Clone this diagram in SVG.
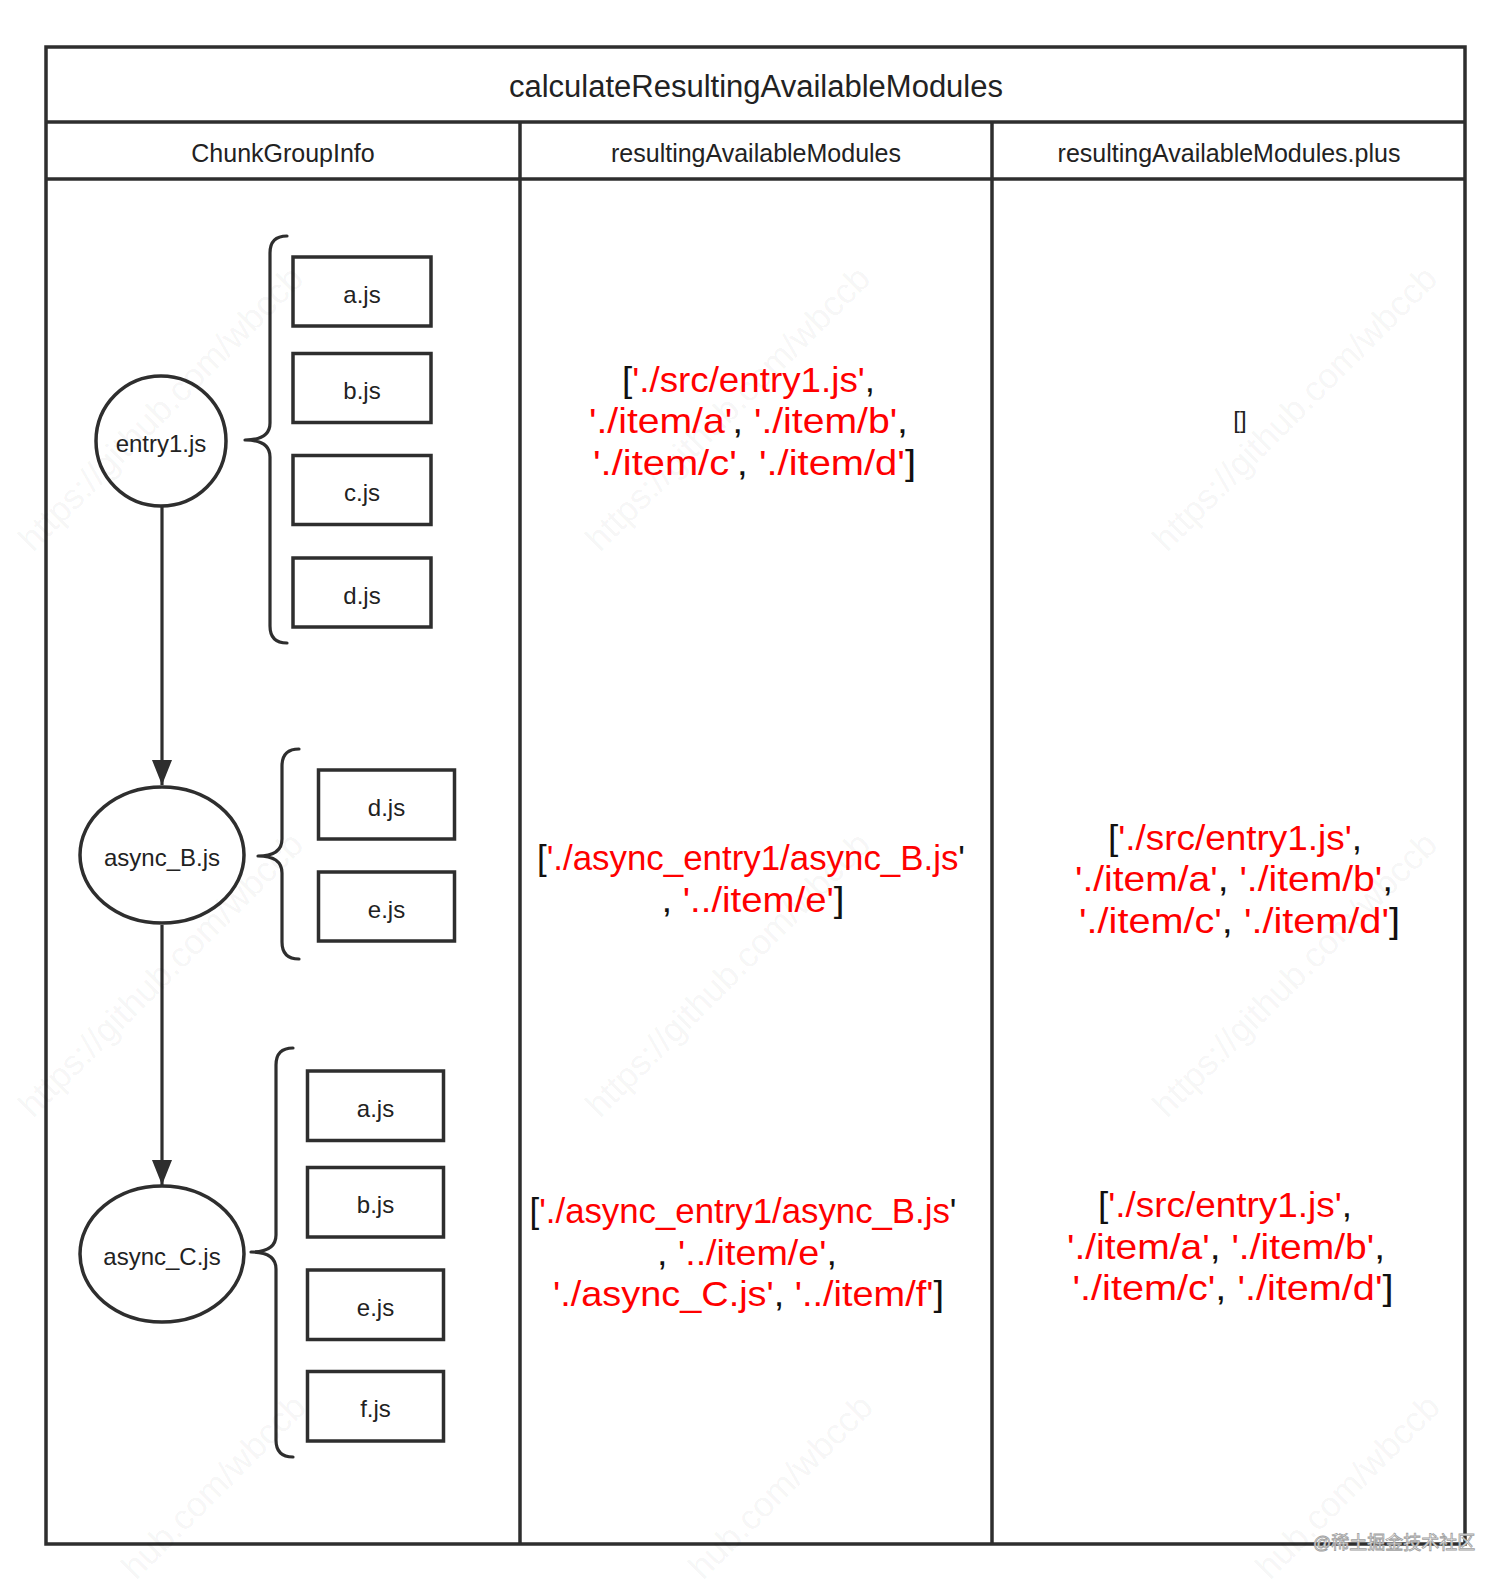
<svg xmlns="http://www.w3.org/2000/svg" width="1512" height="1591" viewBox="0 0 1512 1591">
<style>
.tbl{fill:none;stroke:#2e2e2e;stroke-width:3.5}
.box{fill:#ffffff;stroke:#2e2e2e;stroke-width:3.5}
.node{fill:#ffffff;stroke:#2e2e2e;stroke-width:3.5}
.brace{fill:none;stroke:#2e2e2e;stroke-width:3.2;stroke-linejoin:round;stroke-linecap:round}
.edge{fill:none;stroke:#2e2e2e;stroke-width:3.2}
.t{font-family:"Liberation Sans",Arial,sans-serif;fill:#222222;text-anchor:middle}
.lbl{font-size:24px}
.hdr{font-size:25px}
.ttl{font-size:31px}
.code{font-family:"Liberation Sans",Arial,sans-serif;font-size:35px;fill:#111111;text-anchor:middle}
.r{fill:#ff0000}
.wm{font-family:"Liberation Sans",Arial,sans-serif;font-size:35px;fill:#000000;fill-opacity:0.055}
</style>
<defs>
<marker id="arrow" markerUnits="userSpaceOnUse" markerWidth="25" markerHeight="20" refX="25" refY="10" orient="auto" viewBox="0 0 25 20">
<path d="M0,0 L25,10 L0,20 Z" fill="#2e2e2e"/>
</marker>
</defs>
<rect width="1512" height="1591" fill="#ffffff"/>

<g id="table">
<rect class="tbl" x="46" y="47" width="1419" height="1497"/>
<line class="tbl" x1="46" y1="122" x2="1465" y2="122"/>
<line class="tbl" x1="46" y1="179" x2="1465" y2="179"/>
<line class="tbl" x1="520" y1="122" x2="520" y2="1544"/>
<line class="tbl" x1="992" y1="122" x2="992" y2="1544"/>
<text class="t ttl" x="756" y="97">calculateResultingAvailableModules</text>
<text class="t hdr" x="283" y="162">ChunkGroupInfo</text>
<text class="t hdr" x="756" y="162">resultingAvailableModules</text>
<text class="t hdr" x="1229" y="162">resultingAvailableModules.plus</text>
</g>

<g id="connectors">
<line class="edge" x1="162" y1="507" x2="162" y2="785" marker-end="url(#arrow)"/>
<line class="edge" x1="162" y1="925" x2="162" y2="1185" marker-end="url(#arrow)"/>
<path class="brace" d="M287,236 Q270,236 270,253 L270,423 Q270,440 245,440 Q270,440 270,457 L270,626 Q270,643 287,643"/>
<path class="brace" d="M299,749 Q282,749 282,766 L282,839 Q282,856 258,856 Q282,856 282,873 L282,942 Q282,959 299,959"/>
<path class="brace" d="M293,1048 Q276,1048 276,1065 L276,1235 Q276,1252 251,1252 Q276,1252 276,1269 L276,1440 Q276,1457 293,1457"/>
</g>

<g id="node-entry1">
<circle class="node" cx="161" cy="441" r="65"/>
<text class="t lbl" x="161" y="452">entry1.js</text>
</g>
<g id="node-entry1-a">
<rect class="box" x="293" y="257" width="138" height="69"/>
<text class="t lbl" x="362" y="303">a.js</text>
</g>
<g id="node-entry1-b">
<rect class="box" x="293" y="353.5" width="138" height="69"/>
<text class="t lbl" x="362" y="399">b.js</text>
</g>
<g id="node-entry1-c">
<rect class="box" x="293" y="455.5" width="138" height="69"/>
<text class="t lbl" x="362" y="501">c.js</text>
</g>
<g id="node-entry1-d">
<rect class="box" x="293" y="558" width="138" height="69"/>
<text class="t lbl" x="362" y="603.5">d.js</text>
</g>

<g id="node-asyncB">
<ellipse class="node" cx="162" cy="855" rx="82" ry="68"/>
<text class="t lbl" x="162" y="866">async_B.js</text>
</g>
<g id="node-asyncB-d">
<rect class="box" x="318.5" y="770" width="136" height="69"/>
<text class="t lbl" x="386.5" y="815.5">d.js</text>
</g>
<g id="node-asyncB-e">
<rect class="box" x="318.5" y="872" width="136" height="69"/>
<text class="t lbl" x="386.5" y="917.5">e.js</text>
</g>

<g id="node-asyncC">
<ellipse class="node" cx="162" cy="1254" rx="82" ry="68"/>
<text class="t lbl" x="162" y="1265">async_C.js</text>
</g>
<g id="node-asyncC-a">
<rect class="box" x="307.5" y="1071" width="136" height="69.5"/>
<text class="t lbl" x="375.5" y="1116.5">a.js</text>
</g>
<g id="node-asyncC-b">
<rect class="box" x="307.5" y="1167.5" width="136" height="69.5"/>
<text class="t lbl" x="375.5" y="1213">b.js</text>
</g>
<g id="node-asyncC-e">
<rect class="box" x="307.5" y="1270" width="136" height="69.5"/>
<text class="t lbl" x="375.5" y="1315.5">e.js</text>
</g>
<g id="node-asyncC-f">
<rect class="box" x="307.5" y="1371.5" width="136" height="69.5"/>
<text class="t lbl" x="375.5" y="1417">f.js</text>
</g>

<g id="result-entry1">
<text class="code" x="748.5" y="391.5" textLength="253" lengthAdjust="spacingAndGlyphs">[<tspan class="r">'./src/entry1.js'</tspan>,</text>
<text class="code" x="748.5" y="433" textLength="319" lengthAdjust="spacingAndGlyphs"><tspan class="r">'./item/a'</tspan>, <tspan class="r">'./item/b'</tspan>,</text>
<text class="code" x="754.5" y="474.5" textLength="323" lengthAdjust="spacingAndGlyphs"><tspan class="r">'./item/c'</tspan>, <tspan class="r">'./item/d'</tspan>]</text>
</g>
<g id="plus-entry1">
<text class="t lbl" x="1240" y="428" fill="#111111">[]</text>
</g>

<g id="result-asyncB">
<text class="code" x="751" y="870" textLength="428" lengthAdjust="spacingAndGlyphs">[<tspan class="r">'./async_entry1/async_B.js</tspan>'</text>
<text class="code" x="753" y="911.5" textLength="183" lengthAdjust="spacingAndGlyphs">, <tspan class="r">'../item/e'</tspan>]</text>
</g>
<g id="plus-asyncB">
<text class="code" x="1235" y="849.5" textLength="254" lengthAdjust="spacingAndGlyphs">[<tspan class="r">'./src/entry1.js'</tspan>,</text>
<text class="code" x="1234" y="891" textLength="318" lengthAdjust="spacingAndGlyphs"><tspan class="r">'./item/a'</tspan>, <tspan class="r">'./item/b'</tspan>,</text>
<text class="code" x="1239.5" y="932.5" textLength="321" lengthAdjust="spacingAndGlyphs"><tspan class="r">'./item/c'</tspan>, <tspan class="r">'./item/d'</tspan>]</text>
</g>

<g id="result-asyncC">
<text class="code" x="743" y="1223" textLength="427" lengthAdjust="spacingAndGlyphs">[<tspan class="r">'./async_entry1/async_B.js</tspan>'</text>
<text class="code" x="747" y="1264.5" textLength="180" lengthAdjust="spacingAndGlyphs">, <tspan class="r">'../item/e'</tspan>,</text>
<text class="code" x="748.5" y="1306" textLength="391" lengthAdjust="spacingAndGlyphs"><tspan class="r">'./async_C.js'</tspan>, <tspan class="r">'../item/f'</tspan>]</text>
</g>
<g id="plus-asyncC">
<text class="code" x="1225" y="1217" textLength="254" lengthAdjust="spacingAndGlyphs">[<tspan class="r">'./src/entry1.js'</tspan>,</text>
<text class="code" x="1226" y="1258.5" textLength="318" lengthAdjust="spacingAndGlyphs"><tspan class="r">'./item/a'</tspan>, <tspan class="r">'./item/b'</tspan>,</text>
<text class="code" x="1233" y="1300" textLength="321" lengthAdjust="spacingAndGlyphs"><tspan class="r">'./item/c'</tspan>, <tspan class="r">'./item/d'</tspan>]</text>
</g>

<g id="watermarks">
<text class="wm" transform="translate(33,553) rotate(-45)">https://github.com/wbccb</text>
<text class="wm" transform="translate(600,553) rotate(-45)">https://github.com/wbccb</text>
<text class="wm" transform="translate(1167,553) rotate(-45)">https://github.com/wbccb</text>
<text class="wm" transform="translate(33,1119) rotate(-45)">https://github.com/wbccb</text>
<text class="wm" transform="translate(600,1119) rotate(-45)">https://github.com/wbccb</text>
<text class="wm" transform="translate(1167,1119) rotate(-45)">https://github.com/wbccb</text>
<text class="wm" transform="translate(136,1581) rotate(-45)">hub.com/wbccb</text>
<text class="wm" transform="translate(703,1581) rotate(-45)">hub.com/wbccb</text>
<text class="wm" transform="translate(1270,1581) rotate(-45)">hub.com/wbccb</text>
<text x="1313" y="1549" font-family="'Liberation Sans','Noto Sans CJK SC',sans-serif" font-size="18" fill="#ffffff" stroke="#a0a0a0" stroke-width="0.8">@稀土掘金技术社区</text>
</g>
</svg>
